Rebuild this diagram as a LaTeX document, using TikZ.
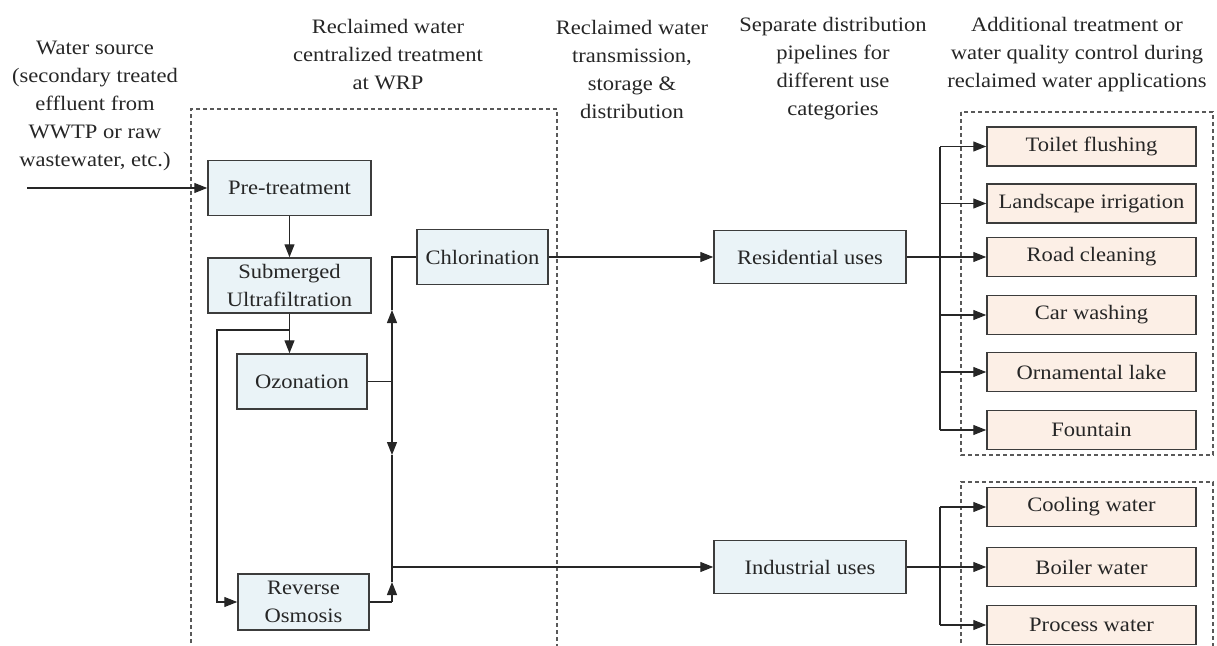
\documentclass[tikz,border=0pt]{standalone}
\usepackage{fontspec}
\setmainfont{Liberation Serif}[FakeStretch=1.1]
\usetikzlibrary{arrows.meta}
\definecolor{bluefill}{HTML}{EAF3F7}
\definecolor{peachfill}{HTML}{FCEFE6}
\definecolor{edgecol}{HTML}{3C3C3C}
\definecolor{txt}{HTML}{262626}
\begin{document}
\begin{tikzpicture}[x=1pt,y=-1pt,
  font=\fontsize{20.5}{28}\selectfont,
  every node/.style={text=txt},
  box/.style={draw=edgecol, line width=1.5pt, fill=bluefill, inner sep=0pt, align=center},
  usebox/.style={box, fill=peachfill, minimum width=209pt, minimum height=39pt},
  hdr/.style={align=center, inner sep=0pt},
  conn/.style={draw=black!85, line width=1.3pt},
  arr/.style={conn, -{Triangle[length=13pt,width=10pt]}},
  dashbox/.style={draw=gray!70!black, line width=1.2pt, dash pattern=on 4pt off 3pt}]
\useasboundingbox (0,0) rectangle (1217,645);

% headers
\node[hdr] (hsrc) at (95,106) {Water source\\(secondary treated\\effluent from\\WWTP or raw\\wastewater, etc.)};
\node[hdr] (h1) at (388,55) {Reclaimed water\\centralized treatment\\at WRP};
\node[hdr] (h2) at (632,69) {Reclaimed water\\transmission,\\storage \&\\distribution};
\node[hdr] (h3) at (833,69) {Separate distribution\\pipelines for\\different use\\categories};
\node[hdr] (h4) at (1077,55) {Additional treatment or\\water quality control during\\reclaimed water applications};

% dashed groups
\draw[dashbox] (191,650) -- (191,109) -- (557,109) -- (557,650);
\draw[dashbox] (961,112) rectangle (1213,455);
\draw[dashbox] (961,650) -- (961,482) -- (1213,482) -- (1213,650);

% WRP boxes
\node[box, minimum width=163pt, minimum height=55pt] (pre) at (289.5,188) {Pre-treatment};
\node[box, minimum width=163pt, minimum height=55pt] (suf) at (289.5,285.5) {Submerged\\Ultrafiltration};
\node[box, minimum width=131pt, minimum height=55pt] (chl) at (482.5,257) {Chlorination};
\node[box, minimum width=130pt, minimum height=55pt] (oz) at (302,381.5) {Ozonation};
\node[box, minimum width=131pt, minimum height=56pt] (ro) at (303.5,602) {Reverse\\Osmosis};

% distribution boxes
\node[box, minimum width=192pt, minimum height=53pt] (res) at (810,257) {Residential uses};
\node[box, minimum width=192pt, minimum height=53pt] (ind) at (810,567) {Industrial uses};

% application boxes
\node[usebox] (t1) at (1091.5,146.5) {Toilet flushing};
\node[usebox] (t2) at (1091.5,203.5) {Landscape irrigation};
\node[usebox] (t3) at (1091.5,257) {Road cleaning};
\node[usebox] (t4) at (1091.5,315) {Car washing};
\node[usebox] (t5) at (1091.5,372) {Ornamental lake};
\node[usebox] (t6) at (1091.5,430) {Fountain};
\node[usebox] (u1) at (1091.5,507) {Cooling water};
\node[usebox] (u2) at (1091.5,567) {Boiler water};
\node[usebox] (u3) at (1091.5,625) {Process water};

% coordinates
\coordinate (inl) at (27,188);
\coordinate (bypA) at (289.5,330);
\coordinate (bypB) at (217,330);
\coordinate (busC) at (392,257);
\coordinate (busO) at (392,381.5);
\coordinate (tipUp) at (392,310);
\coordinate (tipDown) at (392,455);
\coordinate (busInd) at (392,567);
\coordinate (busRO) at (392,602);
\coordinate (tipRO) at (392,582);
\coordinate (rbus) at (940,257);

% WRP connectors
\draw[arr] (inl) -- (pre.west);
\draw[arr] (pre.south) -- (suf.north);
\draw[arr] (suf.south) -- (oz.north -| suf.south);
\draw[arr] (bypA) -- (bypB) |- (ro.west);
\draw[conn] (oz.east) -- (busO);
\draw[arr] (busO) -- (tipUp);
\draw[conn] (tipUp) -- (busC) -- (chl.west);
\draw[arr] (busO) -- (tipDown);
\draw[conn] (tipDown) -- (busInd);
\draw[conn] (ro.east) -- (busRO);
\draw[arr] (busRO) -- (tipRO);
\draw[conn] (tipRO) -- (busInd);
\draw[arr] (busInd) -- (ind.west);
\draw[arr] (chl.east) -- (res.west);

% residential branches
\draw[arr] (res.east) -- (t3.west);
\draw[conn] (rbus |- t1.west) -- (rbus |- t6.west);
\draw[arr] (rbus |- t1.west) -- (t1.west);
\draw[arr] (rbus |- t2.west) -- (t2.west);
\draw[arr] (rbus |- t4.west) -- (t4.west);
\draw[arr] (rbus |- t5.west) -- (t5.west);
\draw[arr] (rbus |- t6.west) -- (t6.west);

% industrial branches
\draw[arr] (ind.east) -- (u2.west);
\draw[conn] (rbus |- u1.west) -- (rbus |- u3.west);
\draw[arr] (rbus |- u1.west) -- (u1.west);
\draw[arr] (rbus |- u3.west) -- (u3.west);
\end{tikzpicture}
\end{document}
